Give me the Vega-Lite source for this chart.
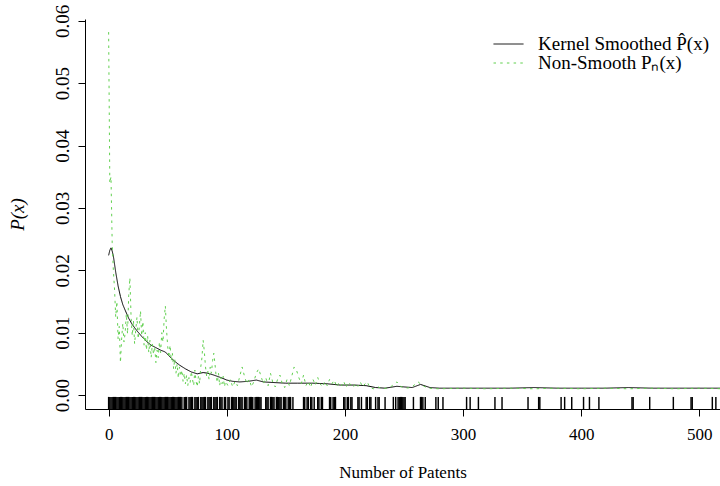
{
  "$schema": "https://vega.github.io/schema/vega-lite/v6.json",
  "autosize": {"type": "none"},
  "padding": {"left": 85, "top": 19, "right": 0, "bottom": 77},
  "width": 635,
  "height": 390,
  "background": "white",
  "config": {
    "view": {"stroke": null},
    "font": "Liberation Serif",
    "axis": {"labelFont": "Liberation Serif", "titleFont": "Liberation Serif", "labelColor": "black", "titleColor": "black", "domainColor": "black", "tickColor": "black", "grid": false, "titleFontWeight": "normal"},
    "legend": {"labelFont": "Liberation Serif", "labelColor": "black", "labelLimit": 400}
  },
  "datasets": {
    "curves": [
      {"series": "Kernel Smoothed P̂(x)", "x": 0, "y": 0.0224},
      {"series": "Kernel Smoothed P̂(x)", "x": 1, "y": 0.0232},
      {"series": "Kernel Smoothed P̂(x)", "x": 2, "y": 0.0236},
      {"series": "Kernel Smoothed P̂(x)", "x": 3, "y": 0.0231},
      {"series": "Kernel Smoothed P̂(x)", "x": 4, "y": 0.0223},
      {"series": "Kernel Smoothed P̂(x)", "x": 5, "y": 0.0210},
      {"series": "Kernel Smoothed P̂(x)", "x": 6, "y": 0.0197},
      {"series": "Kernel Smoothed P̂(x)", "x": 8, "y": 0.0175},
      {"series": "Kernel Smoothed P̂(x)", "x": 10, "y": 0.0158},
      {"series": "Kernel Smoothed P̂(x)", "x": 12, "y": 0.0145},
      {"series": "Kernel Smoothed P̂(x)", "x": 14, "y": 0.0136},
      {"series": "Kernel Smoothed P̂(x)", "x": 17, "y": 0.0123},
      {"series": "Kernel Smoothed P̂(x)", "x": 20, "y": 0.0113},
      {"series": "Kernel Smoothed P̂(x)", "x": 24, "y": 0.0103},
      {"series": "Kernel Smoothed P̂(x)", "x": 28, "y": 0.0094},
      {"series": "Kernel Smoothed P̂(x)", "x": 32, "y": 0.0086},
      {"series": "Kernel Smoothed P̂(x)", "x": 36, "y": 0.0080},
      {"series": "Kernel Smoothed P̂(x)", "x": 40, "y": 0.0076},
      {"series": "Kernel Smoothed P̂(x)", "x": 44, "y": 0.0072},
      {"series": "Kernel Smoothed P̂(x)", "x": 48, "y": 0.0069},
      {"series": "Kernel Smoothed P̂(x)", "x": 52, "y": 0.0061},
      {"series": "Kernel Smoothed P̂(x)", "x": 56, "y": 0.0054},
      {"series": "Kernel Smoothed P̂(x)", "x": 60, "y": 0.0048},
      {"series": "Kernel Smoothed P̂(x)", "x": 65, "y": 0.0042},
      {"series": "Kernel Smoothed P̂(x)", "x": 70, "y": 0.0037},
      {"series": "Kernel Smoothed P̂(x)", "x": 75, "y": 0.0034},
      {"series": "Kernel Smoothed P̂(x)", "x": 80, "y": 0.0036},
      {"series": "Kernel Smoothed P̂(x)", "x": 84, "y": 0.0035},
      {"series": "Kernel Smoothed P̂(x)", "x": 89, "y": 0.0032},
      {"series": "Kernel Smoothed P̂(x)", "x": 95, "y": 0.0028},
      {"series": "Kernel Smoothed P̂(x)", "x": 100, "y": 0.0024},
      {"series": "Kernel Smoothed P̂(x)", "x": 105, "y": 0.0022},
      {"series": "Kernel Smoothed P̂(x)", "x": 111, "y": 0.0021},
      {"series": "Kernel Smoothed P̂(x)", "x": 118, "y": 0.0022},
      {"series": "Kernel Smoothed P̂(x)", "x": 125, "y": 0.0024},
      {"series": "Kernel Smoothed P̂(x)", "x": 131, "y": 0.0021},
      {"series": "Kernel Smoothed P̂(x)", "x": 140, "y": 0.0020},
      {"series": "Kernel Smoothed P̂(x)", "x": 150, "y": 0.0019},
      {"series": "Kernel Smoothed P̂(x)", "x": 160, "y": 0.0019},
      {"series": "Kernel Smoothed P̂(x)", "x": 173, "y": 0.0019},
      {"series": "Kernel Smoothed P̂(x)", "x": 185, "y": 0.0018},
      {"series": "Kernel Smoothed P̂(x)", "x": 196, "y": 0.0016},
      {"series": "Kernel Smoothed P̂(x)", "x": 208, "y": 0.0016},
      {"series": "Kernel Smoothed P̂(x)", "x": 218, "y": 0.0015},
      {"series": "Kernel Smoothed P̂(x)", "x": 226, "y": 0.0012},
      {"series": "Kernel Smoothed P̂(x)", "x": 234, "y": 0.0011},
      {"series": "Kernel Smoothed P̂(x)", "x": 244, "y": 0.0014},
      {"series": "Kernel Smoothed P̂(x)", "x": 250, "y": 0.0013},
      {"series": "Kernel Smoothed P̂(x)", "x": 257, "y": 0.0012},
      {"series": "Kernel Smoothed P̂(x)", "x": 264, "y": 0.0017},
      {"series": "Kernel Smoothed P̂(x)", "x": 272, "y": 0.0012},
      {"series": "Kernel Smoothed P̂(x)", "x": 280, "y": 0.0011},
      {"series": "Kernel Smoothed P̂(x)", "x": 300, "y": 0.0011},
      {"series": "Kernel Smoothed P̂(x)", "x": 320, "y": 0.0011},
      {"series": "Kernel Smoothed P̂(x)", "x": 340, "y": 0.0011},
      {"series": "Kernel Smoothed P̂(x)", "x": 360, "y": 0.0012},
      {"series": "Kernel Smoothed P̂(x)", "x": 380, "y": 0.0011},
      {"series": "Kernel Smoothed P̂(x)", "x": 400, "y": 0.0011},
      {"series": "Kernel Smoothed P̂(x)", "x": 420, "y": 0.0011},
      {"series": "Kernel Smoothed P̂(x)", "x": 440, "y": 0.0012},
      {"series": "Kernel Smoothed P̂(x)", "x": 460, "y": 0.0011},
      {"series": "Kernel Smoothed P̂(x)", "x": 480, "y": 0.0011},
      {"series": "Kernel Smoothed P̂(x)", "x": 500, "y": 0.0011},
      {"series": "Kernel Smoothed P̂(x)", "x": 520, "y": 0.0011},
      {"series": "Non-Smooth Pₙ(x)", "x": 0, "y": 0.0582},
      {"series": "Non-Smooth Pₙ(x)", "x": 1, "y": 0.0340},
      {"series": "Non-Smooth Pₙ(x)", "x": 2, "y": 0.0350},
      {"series": "Non-Smooth Pₙ(x)", "x": 3, "y": 0.0245},
      {"series": "Non-Smooth Pₙ(x)", "x": 4, "y": 0.0200},
      {"series": "Non-Smooth Pₙ(x)", "x": 5, "y": 0.0170},
      {"series": "Non-Smooth Pₙ(x)", "x": 6, "y": 0.0125},
      {"series": "Non-Smooth Pₙ(x)", "x": 7, "y": 0.0150},
      {"series": "Non-Smooth Pₙ(x)", "x": 8, "y": 0.0090},
      {"series": "Non-Smooth Pₙ(x)", "x": 9, "y": 0.0110},
      {"series": "Non-Smooth Pₙ(x)", "x": 10, "y": 0.0052},
      {"series": "Non-Smooth Pₙ(x)", "x": 11, "y": 0.0090},
      {"series": "Non-Smooth Pₙ(x)", "x": 12, "y": 0.0115},
      {"series": "Non-Smooth Pₙ(x)", "x": 13, "y": 0.0085},
      {"series": "Non-Smooth Pₙ(x)", "x": 14, "y": 0.0100},
      {"series": "Non-Smooth Pₙ(x)", "x": 15, "y": 0.0130},
      {"series": "Non-Smooth Pₙ(x)", "x": 16, "y": 0.0098},
      {"series": "Non-Smooth Pₙ(x)", "x": 17, "y": 0.0160},
      {"series": "Non-Smooth Pₙ(x)", "x": 18, "y": 0.0188},
      {"series": "Non-Smooth Pₙ(x)", "x": 19, "y": 0.0125},
      {"series": "Non-Smooth Pₙ(x)", "x": 20, "y": 0.0095},
      {"series": "Non-Smooth Pₙ(x)", "x": 21, "y": 0.0120},
      {"series": "Non-Smooth Pₙ(x)", "x": 22, "y": 0.0082},
      {"series": "Non-Smooth Pₙ(x)", "x": 23, "y": 0.0105},
      {"series": "Non-Smooth Pₙ(x)", "x": 24, "y": 0.0125},
      {"series": "Non-Smooth Pₙ(x)", "x": 25, "y": 0.0090},
      {"series": "Non-Smooth Pₙ(x)", "x": 26, "y": 0.0110},
      {"series": "Non-Smooth Pₙ(x)", "x": 27, "y": 0.0135},
      {"series": "Non-Smooth Pₙ(x)", "x": 28, "y": 0.0095},
      {"series": "Non-Smooth Pₙ(x)", "x": 29, "y": 0.0118},
      {"series": "Non-Smooth Pₙ(x)", "x": 30, "y": 0.0080},
      {"series": "Non-Smooth Pₙ(x)", "x": 31, "y": 0.0100},
      {"series": "Non-Smooth Pₙ(x)", "x": 32, "y": 0.0072},
      {"series": "Non-Smooth Pₙ(x)", "x": 33, "y": 0.0095},
      {"series": "Non-Smooth Pₙ(x)", "x": 34, "y": 0.0068},
      {"series": "Non-Smooth Pₙ(x)", "x": 35, "y": 0.0088},
      {"series": "Non-Smooth Pₙ(x)", "x": 36, "y": 0.0060},
      {"series": "Non-Smooth Pₙ(x)", "x": 37, "y": 0.0082},
      {"series": "Non-Smooth Pₙ(x)", "x": 38, "y": 0.0065},
      {"series": "Non-Smooth Pₙ(x)", "x": 39, "y": 0.0078},
      {"series": "Non-Smooth Pₙ(x)", "x": 40, "y": 0.0052},
      {"series": "Non-Smooth Pₙ(x)", "x": 41, "y": 0.0072},
      {"series": "Non-Smooth Pₙ(x)", "x": 42, "y": 0.0060},
      {"series": "Non-Smooth Pₙ(x)", "x": 43, "y": 0.0085},
      {"series": "Non-Smooth Pₙ(x)", "x": 44, "y": 0.0068},
      {"series": "Non-Smooth Pₙ(x)", "x": 45, "y": 0.0100},
      {"series": "Non-Smooth Pₙ(x)", "x": 46, "y": 0.0085},
      {"series": "Non-Smooth Pₙ(x)", "x": 47, "y": 0.0122},
      {"series": "Non-Smooth Pₙ(x)", "x": 48, "y": 0.0143},
      {"series": "Non-Smooth Pₙ(x)", "x": 49, "y": 0.0105},
      {"series": "Non-Smooth Pₙ(x)", "x": 50, "y": 0.0078},
      {"series": "Non-Smooth Pₙ(x)", "x": 51, "y": 0.0060},
      {"series": "Non-Smooth Pₙ(x)", "x": 52, "y": 0.0080},
      {"series": "Non-Smooth Pₙ(x)", "x": 53, "y": 0.0055},
      {"series": "Non-Smooth Pₙ(x)", "x": 54, "y": 0.0067},
      {"series": "Non-Smooth Pₙ(x)", "x": 55, "y": 0.0042},
      {"series": "Non-Smooth Pₙ(x)", "x": 56, "y": 0.0058},
      {"series": "Non-Smooth Pₙ(x)", "x": 57, "y": 0.0035},
      {"series": "Non-Smooth Pₙ(x)", "x": 58, "y": 0.0050},
      {"series": "Non-Smooth Pₙ(x)", "x": 59, "y": 0.0027},
      {"series": "Non-Smooth Pₙ(x)", "x": 60, "y": 0.0045},
      {"series": "Non-Smooth Pₙ(x)", "x": 61, "y": 0.0030},
      {"series": "Non-Smooth Pₙ(x)", "x": 62, "y": 0.0040},
      {"series": "Non-Smooth Pₙ(x)", "x": 63, "y": 0.0022},
      {"series": "Non-Smooth Pₙ(x)", "x": 64, "y": 0.0035},
      {"series": "Non-Smooth Pₙ(x)", "x": 65, "y": 0.0018},
      {"series": "Non-Smooth Pₙ(x)", "x": 66, "y": 0.0032},
      {"series": "Non-Smooth Pₙ(x)", "x": 67, "y": 0.0015},
      {"series": "Non-Smooth Pₙ(x)", "x": 68, "y": 0.0028},
      {"series": "Non-Smooth Pₙ(x)", "x": 69, "y": 0.0020},
      {"series": "Non-Smooth Pₙ(x)", "x": 70, "y": 0.0038},
      {"series": "Non-Smooth Pₙ(x)", "x": 71, "y": 0.0025},
      {"series": "Non-Smooth Pₙ(x)", "x": 72, "y": 0.0015},
      {"series": "Non-Smooth Pₙ(x)", "x": 73, "y": 0.0040},
      {"series": "Non-Smooth Pₙ(x)", "x": 74, "y": 0.0022},
      {"series": "Non-Smooth Pₙ(x)", "x": 75, "y": 0.0013},
      {"series": "Non-Smooth Pₙ(x)", "x": 76, "y": 0.0030},
      {"series": "Non-Smooth Pₙ(x)", "x": 77, "y": 0.0018},
      {"series": "Non-Smooth Pₙ(x)", "x": 78, "y": 0.0045},
      {"series": "Non-Smooth Pₙ(x)", "x": 79, "y": 0.0060},
      {"series": "Non-Smooth Pₙ(x)", "x": 80, "y": 0.0088},
      {"series": "Non-Smooth Pₙ(x)", "x": 81, "y": 0.0070},
      {"series": "Non-Smooth Pₙ(x)", "x": 82, "y": 0.0045},
      {"series": "Non-Smooth Pₙ(x)", "x": 83, "y": 0.0030},
      {"series": "Non-Smooth Pₙ(x)", "x": 84, "y": 0.0038},
      {"series": "Non-Smooth Pₙ(x)", "x": 85, "y": 0.0025},
      {"series": "Non-Smooth Pₙ(x)", "x": 86, "y": 0.0045},
      {"series": "Non-Smooth Pₙ(x)", "x": 87, "y": 0.0035},
      {"series": "Non-Smooth Pₙ(x)", "x": 88, "y": 0.0055},
      {"series": "Non-Smooth Pₙ(x)", "x": 89, "y": 0.0067},
      {"series": "Non-Smooth Pₙ(x)", "x": 90, "y": 0.0050},
      {"series": "Non-Smooth Pₙ(x)", "x": 91, "y": 0.0030},
      {"series": "Non-Smooth Pₙ(x)", "x": 92, "y": 0.0020},
      {"series": "Non-Smooth Pₙ(x)", "x": 93, "y": 0.0035},
      {"series": "Non-Smooth Pₙ(x)", "x": 94, "y": 0.0015},
      {"series": "Non-Smooth Pₙ(x)", "x": 95, "y": 0.0028},
      {"series": "Non-Smooth Pₙ(x)", "x": 96, "y": 0.0018},
      {"series": "Non-Smooth Pₙ(x)", "x": 97, "y": 0.0030},
      {"series": "Non-Smooth Pₙ(x)", "x": 98, "y": 0.0013},
      {"series": "Non-Smooth Pₙ(x)", "x": 99, "y": 0.0022},
      {"series": "Non-Smooth Pₙ(x)", "x": 101, "y": 0.0015},
      {"series": "Non-Smooth Pₙ(x)", "x": 103, "y": 0.0025},
      {"series": "Non-Smooth Pₙ(x)", "x": 105, "y": 0.0013},
      {"series": "Non-Smooth Pₙ(x)", "x": 107, "y": 0.0022},
      {"series": "Non-Smooth Pₙ(x)", "x": 109, "y": 0.0015},
      {"series": "Non-Smooth Pₙ(x)", "x": 111, "y": 0.0030},
      {"series": "Non-Smooth Pₙ(x)", "x": 113, "y": 0.0045},
      {"series": "Non-Smooth Pₙ(x)", "x": 115, "y": 0.0030},
      {"series": "Non-Smooth Pₙ(x)", "x": 117, "y": 0.0018},
      {"series": "Non-Smooth Pₙ(x)", "x": 119, "y": 0.0025},
      {"series": "Non-Smooth Pₙ(x)", "x": 121, "y": 0.0013},
      {"series": "Non-Smooth Pₙ(x)", "x": 123, "y": 0.0022},
      {"series": "Non-Smooth Pₙ(x)", "x": 125, "y": 0.0035},
      {"series": "Non-Smooth Pₙ(x)", "x": 127, "y": 0.0042},
      {"series": "Non-Smooth Pₙ(x)", "x": 129, "y": 0.0030},
      {"series": "Non-Smooth Pₙ(x)", "x": 131, "y": 0.0018},
      {"series": "Non-Smooth Pₙ(x)", "x": 133, "y": 0.0028},
      {"series": "Non-Smooth Pₙ(x)", "x": 135, "y": 0.0015},
      {"series": "Non-Smooth Pₙ(x)", "x": 137, "y": 0.0035},
      {"series": "Non-Smooth Pₙ(x)", "x": 139, "y": 0.0020},
      {"series": "Non-Smooth Pₙ(x)", "x": 141, "y": 0.0013},
      {"series": "Non-Smooth Pₙ(x)", "x": 143, "y": 0.0025},
      {"series": "Non-Smooth Pₙ(x)", "x": 145, "y": 0.0032},
      {"series": "Non-Smooth Pₙ(x)", "x": 147, "y": 0.0018},
      {"series": "Non-Smooth Pₙ(x)", "x": 149, "y": 0.0012},
      {"series": "Non-Smooth Pₙ(x)", "x": 151, "y": 0.0025},
      {"series": "Non-Smooth Pₙ(x)", "x": 153, "y": 0.0015},
      {"series": "Non-Smooth Pₙ(x)", "x": 155, "y": 0.0030},
      {"series": "Non-Smooth Pₙ(x)", "x": 157, "y": 0.0045},
      {"series": "Non-Smooth Pₙ(x)", "x": 159, "y": 0.0040},
      {"series": "Non-Smooth Pₙ(x)", "x": 161, "y": 0.0028},
      {"series": "Non-Smooth Pₙ(x)", "x": 163, "y": 0.0018},
      {"series": "Non-Smooth Pₙ(x)", "x": 165, "y": 0.0032},
      {"series": "Non-Smooth Pₙ(x)", "x": 167, "y": 0.0015},
      {"series": "Non-Smooth Pₙ(x)", "x": 169, "y": 0.0022},
      {"series": "Non-Smooth Pₙ(x)", "x": 171, "y": 0.0012},
      {"series": "Non-Smooth Pₙ(x)", "x": 173, "y": 0.0025},
      {"series": "Non-Smooth Pₙ(x)", "x": 175, "y": 0.0016},
      {"series": "Non-Smooth Pₙ(x)", "x": 177, "y": 0.0028},
      {"series": "Non-Smooth Pₙ(x)", "x": 179, "y": 0.0018},
      {"series": "Non-Smooth Pₙ(x)", "x": 181, "y": 0.0013},
      {"series": "Non-Smooth Pₙ(x)", "x": 183, "y": 0.0022},
      {"series": "Non-Smooth Pₙ(x)", "x": 185, "y": 0.0015},
      {"series": "Non-Smooth Pₙ(x)", "x": 187, "y": 0.0025},
      {"series": "Non-Smooth Pₙ(x)", "x": 189, "y": 0.0018},
      {"series": "Non-Smooth Pₙ(x)", "x": 191, "y": 0.0024},
      {"series": "Non-Smooth Pₙ(x)", "x": 193, "y": 0.0013},
      {"series": "Non-Smooth Pₙ(x)", "x": 195, "y": 0.0020},
      {"series": "Non-Smooth Pₙ(x)", "x": 197, "y": 0.0015},
      {"series": "Non-Smooth Pₙ(x)", "x": 199, "y": 0.0022},
      {"series": "Non-Smooth Pₙ(x)", "x": 201, "y": 0.0012},
      {"series": "Non-Smooth Pₙ(x)", "x": 203, "y": 0.0021},
      {"series": "Non-Smooth Pₙ(x)", "x": 205, "y": 0.0016},
      {"series": "Non-Smooth Pₙ(x)", "x": 207, "y": 0.0012},
      {"series": "Non-Smooth Pₙ(x)", "x": 209, "y": 0.0019},
      {"series": "Non-Smooth Pₙ(x)", "x": 211, "y": 0.0014},
      {"series": "Non-Smooth Pₙ(x)", "x": 213, "y": 0.0021},
      {"series": "Non-Smooth Pₙ(x)", "x": 215, "y": 0.0013},
      {"series": "Non-Smooth Pₙ(x)", "x": 217, "y": 0.0018},
      {"series": "Non-Smooth Pₙ(x)", "x": 219, "y": 0.0021},
      {"series": "Non-Smooth Pₙ(x)", "x": 221, "y": 0.0012},
      {"series": "Non-Smooth Pₙ(x)", "x": 224, "y": 0.0010},
      {"series": "Non-Smooth Pₙ(x)", "x": 228, "y": 0.0013},
      {"series": "Non-Smooth Pₙ(x)", "x": 232, "y": 0.0010},
      {"series": "Non-Smooth Pₙ(x)", "x": 238, "y": 0.0012},
      {"series": "Non-Smooth Pₙ(x)", "x": 244, "y": 0.0021},
      {"series": "Non-Smooth Pₙ(x)", "x": 247, "y": 0.0014},
      {"series": "Non-Smooth Pₙ(x)", "x": 251, "y": 0.0011},
      {"series": "Non-Smooth Pₙ(x)", "x": 256, "y": 0.0012},
      {"series": "Non-Smooth Pₙ(x)", "x": 262, "y": 0.0021},
      {"series": "Non-Smooth Pₙ(x)", "x": 265, "y": 0.0016},
      {"series": "Non-Smooth Pₙ(x)", "x": 270, "y": 0.0011},
      {"series": "Non-Smooth Pₙ(x)", "x": 280, "y": 0.0010},
      {"series": "Non-Smooth Pₙ(x)", "x": 300, "y": 0.0011},
      {"series": "Non-Smooth Pₙ(x)", "x": 320, "y": 0.0010},
      {"series": "Non-Smooth Pₙ(x)", "x": 340, "y": 0.0011},
      {"series": "Non-Smooth Pₙ(x)", "x": 360, "y": 0.0010},
      {"series": "Non-Smooth Pₙ(x)", "x": 380, "y": 0.0011},
      {"series": "Non-Smooth Pₙ(x)", "x": 400, "y": 0.0010},
      {"series": "Non-Smooth Pₙ(x)", "x": 420, "y": 0.0011},
      {"series": "Non-Smooth Pₙ(x)", "x": 440, "y": 0.0010},
      {"series": "Non-Smooth Pₙ(x)", "x": 460, "y": 0.0011},
      {"series": "Non-Smooth Pₙ(x)", "x": 480, "y": 0.0010},
      {"series": "Non-Smooth Pₙ(x)", "x": 500, "y": 0.0011},
      {"series": "Non-Smooth Pₙ(x)", "x": 520, "y": 0.0010}
    ],
    "rug": [
      {"x": 0}, {"x": 1}, {"x": 2}, {"x": 3}, {"x": 4}, {"x": 5}, {"x": 6}, {"x": 7}, {"x": 8}, {"x": 9},
      {"x": 10}, {"x": 11}, {"x": 12}, {"x": 13}, {"x": 14}, {"x": 15}, {"x": 16}, {"x": 17}, {"x": 18}, {"x": 19},
      {"x": 20}, {"x": 21}, {"x": 22}, {"x": 23}, {"x": 24}, {"x": 25}, {"x": 26}, {"x": 27}, {"x": 28}, {"x": 29},
      {"x": 30}, {"x": 31}, {"x": 32}, {"x": 33}, {"x": 34}, {"x": 35}, {"x": 36}, {"x": 37}, {"x": 38}, {"x": 39},
      {"x": 40}, {"x": 41}, {"x": 42}, {"x": 43}, {"x": 44}, {"x": 45}, {"x": 46}, {"x": 47}, {"x": 48}, {"x": 49},
      {"x": 50}, {"x": 51}, {"x": 52}, {"x": 53}, {"x": 54}, {"x": 55}, {"x": 56}, {"x": 57}, {"x": 58}, {"x": 59},
      {"x": 60}, {"x": 61}, {"x": 62}, {"x": 64}, {"x": 65}, {"x": 66}, {"x": 68}, {"x": 69}, {"x": 70}, {"x": 71},
      {"x": 73}, {"x": 74}, {"x": 75}, {"x": 76}, {"x": 78}, {"x": 79}, {"x": 80}, {"x": 81}, {"x": 82}, {"x": 84},
      {"x": 85}, {"x": 86}, {"x": 87}, {"x": 89}, {"x": 90}, {"x": 91}, {"x": 92}, {"x": 94}, {"x": 95}, {"x": 96},
      {"x": 98}, {"x": 99}, {"x": 101}, {"x": 102}, {"x": 104}, {"x": 105}, {"x": 106}, {"x": 107}, {"x": 108}, {"x": 110},
      {"x": 111}, {"x": 112}, {"x": 113}, {"x": 115}, {"x": 116}, {"x": 117}, {"x": 119}, {"x": 120}, {"x": 121}, {"x": 122},
      {"x": 124}, {"x": 125}, {"x": 126}, {"x": 127}, {"x": 128}, {"x": 129}, {"x": 133}, {"x": 134}, {"x": 135}, {"x": 137},
      {"x": 138}, {"x": 139}, {"x": 140}, {"x": 142}, {"x": 143}, {"x": 144}, {"x": 145}, {"x": 146}, {"x": 148}, {"x": 149},
      {"x": 150}, {"x": 152}, {"x": 153}, {"x": 154}, {"x": 156}, {"x": 165}, {"x": 166}, {"x": 168}, {"x": 169}, {"x": 171},
      {"x": 172}, {"x": 174}, {"x": 177}, {"x": 178}, {"x": 180}, {"x": 181}, {"x": 187}, {"x": 188}, {"x": 190}, {"x": 191},
      {"x": 192}, {"x": 199}, {"x": 200}, {"x": 202}, {"x": 203}, {"x": 205}, {"x": 206}, {"x": 211}, {"x": 212}, {"x": 214},
      {"x": 218}, {"x": 219}, {"x": 221}, {"x": 222}, {"x": 226}, {"x": 228}, {"x": 229}, {"x": 234}, {"x": 241}, {"x": 243},
      {"x": 245}, {"x": 246}, {"x": 247}, {"x": 248}, {"x": 249}, {"x": 250}, {"x": 251}, {"x": 258}, {"x": 264}, {"x": 265},
      {"x": 266}, {"x": 268}, {"x": 277}, {"x": 279}, {"x": 283}, {"x": 303}, {"x": 306}, {"x": 313}, {"x": 327}, {"x": 333},
      {"x": 355}, {"x": 364}, {"x": 365}, {"x": 383}, {"x": 386}, {"x": 392}, {"x": 402}, {"x": 407}, {"x": 415}, {"x": 443},
      {"x": 444}, {"x": 458}, {"x": 478}, {"x": 493}, {"x": 494}, {"x": 511}, {"x": 514}
    ]
  },
  "layer": [
    {
      "data": {"name": "rug"},
      "mark": {"type": "rule", "color": "black", "strokeWidth": 1.45},
      "encoding": {
        "x": {"field": "x", "type": "quantitative"},
        "y": {"datum": -0.00224},
        "y2": {"datum": -0.0003}
      }
    },
    {
      "data": {"name": "curves"},
      "mark": {"type": "line", "strokeWidth": 1, "clip": true},
      "encoding": {
        "x": {
          "field": "x", "type": "quantitative",
          "scale": {"domain": [-20, 517.5], "nice": false, "zero": false},
          "axis": {"values": [0, 100, 200, 300, 400, 500], "title": "Number of Patents", "labelFontSize": 17, "titleFontSize": 17, "tickSize": 7, "labelPadding": 10, "titlePadding": 22, "labelFlush": false}
        },
        "y": {
          "field": "y", "type": "quantitative",
          "scale": {"domain": [-0.00224, 0.0603], "nice": false, "zero": false},
          "axis": {"values": [0, 0.01, 0.02, 0.03, 0.04, 0.05, 0.06], "format": ".2f", "title": "P(x)", "titleFontStyle": "italic", "labelFontSize": 19, "titleFontSize": 19, "tickSize": 7, "labelAngle": -90, "labelAlign": "center", "labelBaseline": "bottom", "labelPadding": 6, "titlePadding": 26, "labelFlush": false}
        },
        "color": {
          "field": "series", "type": "nominal",
          "scale": {"domain": ["Kernel Smoothed P̂(x)", "Non-Smooth Pₙ(x)"], "range": ["#000000", "#61D04F"]},
          "legend": {"title": null, "orient": "none", "legendX": 408, "legendY": 16, "symbolType": "stroke", "symbolSize": 900, "symbolStrokeWidth": 1, "labelFontSize": 19, "labelOffset": 14, "labelLimit": 400, "clipHeight": 18, "rowPadding": 0, "padding": 0}
        },
        "strokeDash": {
          "field": "series", "type": "nominal",
          "scale": {"domain": ["Kernel Smoothed P̂(x)", "Non-Smooth Pₙ(x)"], "range": [[1, 0], [2.5, 4.2]]},
          "legend": {"title": null, "orient": "none", "legendX": 408, "legendY": 16, "symbolType": "stroke", "symbolSize": 900, "symbolStrokeWidth": 1, "labelFontSize": 19, "labelOffset": 14, "labelLimit": 400, "clipHeight": 18, "rowPadding": 0, "padding": 0}
        }
      }
    },
    {
      "mark": {"type": "rule", "color": "black", "strokeWidth": 1},
      "encoding": {"y": {"datum": 0.0603}}
    }
  ]
}
